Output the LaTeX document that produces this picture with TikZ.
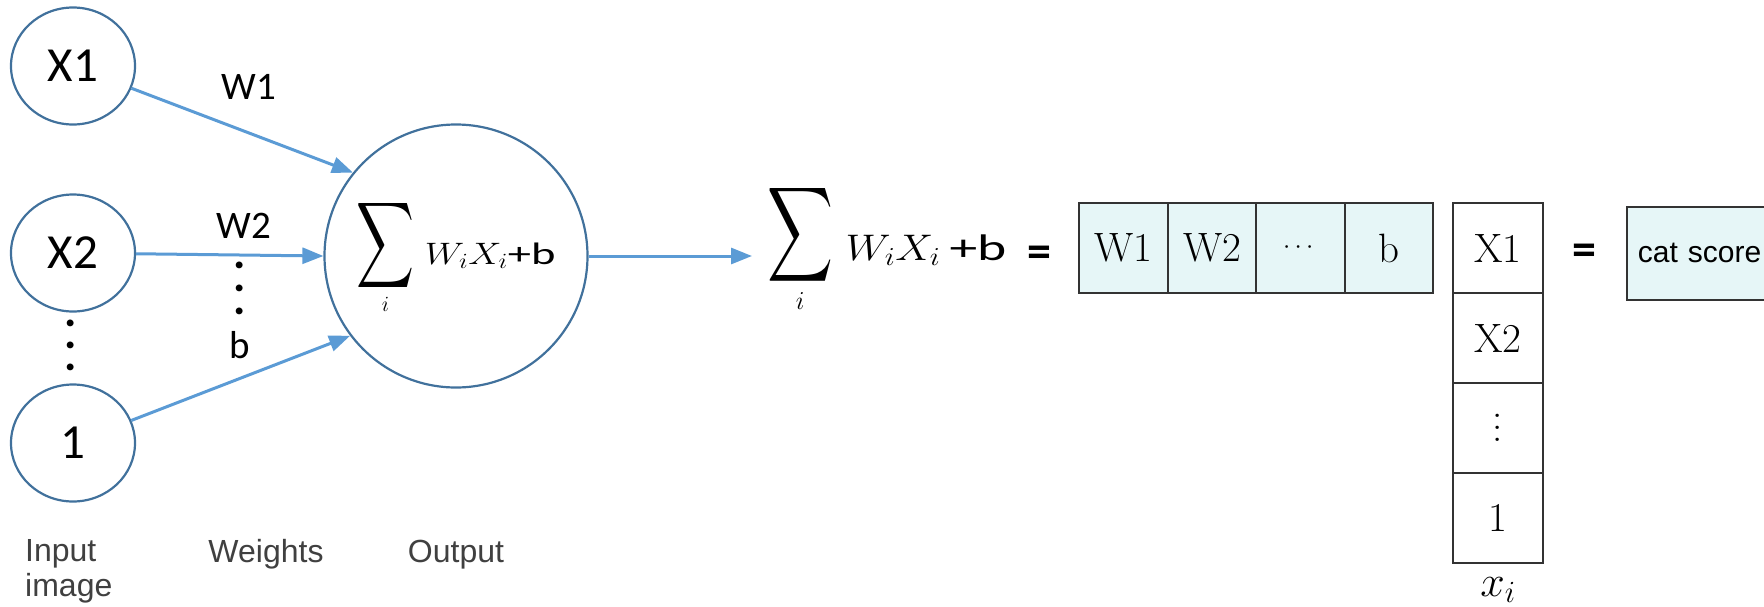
\RequirePackage{fix-cm}
\documentclass[tikz,border=0pt]{standalone}
\usepackage{amsmath}
\usepackage{graphicx}
\usepackage{fontspec}
\newfontfamily\calib{Carlito}
\newfontfamily\arialf{Liberation Sans}
\usetikzlibrary{arrows.meta,positioning,shapes.geometric}

\definecolor{ringblue}{HTML}{41719C}
\definecolor{linkblue}{HTML}{5B9BD5}
\definecolor{cellfill}{HTML}{E6F6F7}
\definecolor{cellline}{HTML}{333333}
\definecolor{capgray}{HTML}{404040}

\newcommand{\fsz}[1]{\fontsize{#1}{#1}\selectfont}
\newcommand{\bigsig}[2]{\resizebox*{#1}{#2}{$\displaystyle\sum$}}
\newcommand{\wsum}[4]{$\mathop{#1}\limits_i\,\scalebox{#2}[1]{$W_iX_i$}$\kern#3\scalebox{#4}[1]{+b}}
\newcommand{\vdotz}[1]{\vbox{\baselineskip=#1\lineskiplimit=-100pt\hbox{.}\hbox{.}\hbox{.}}}

\begin{document}
\begin{tikzpicture}[x=1pt,y=-1pt,>={Triangle[length=21pt,width=16pt]},
inp/.style={ellipse,draw=ringblue,line width=2.2pt,minimum width=124pt,minimum height=117pt,inner sep=0pt,font=\calib\fsz{49}},
neuron/.style={circle,draw=ringblue,line width=2.2pt,minimum size=263pt,inner sep=0pt,font=\calib\fsz{31}},
link/.style={->,draw=linkblue,line width=3pt},
wlab/.style={font=\calib\fsz{39},inner sep=0pt},
dotz/.style={font=\calib\bfseries\fsz{46},inner sep=0pt},
cell/.style={draw=cellline,line width=1.8pt,minimum width=88.5pt,minimum height=90pt,inner sep=0pt,outer sep=0pt,font=\fsz{41}},
wcell/.style={cell,fill=cellfill},
eqsign/.style={font=\calib\bfseries\fsz{48},inner sep=0pt},
tag/.style={font=\arialf\fontsize{32}{35}\selectfont,text=capgray,inner sep=0pt}]
\useasboundingbox (0,0) rectangle (1764,606);
\clip (0,0) rectangle (1764,606);

\node[inp] (x1) at (73,66) {X1};
\node[inp] (x2) at (73,253) {X2};
\node[inp] (one) at (73,443) {1};
\node[dotz] (xdots) at (71,345) {\vdotz{22pt}};

\node[neuron] (sum) at (456,256) {\wsum{\bigsig{58pt}{96pt}}{1.2}{0pt}{1.5}};

\draw[link] (x1) -- (sum.141);
\draw[link] (x2) -- (sum.west);
\draw[link] (one) -- (sum.217);

\node[wlab] (w1) at (249,87) {W1};
\node[wlab] (w2) at (244,226) {W2};
\node[dotz] (wdots) at (240,288) {\vdotz{23pt}};
\node[wlab] (bias) at (240,345) {b};

\node[font=\calib\fsz{37},anchor=base west,inner xsep=15pt,inner ysep=0pt] (score) at (752,260) {\wsum{\bigsig{66pt}{106pt}}{1.15}{9pt}{1.5}};
\draw[link] (sum.east) -- (sum.east -| score.west);

\node[eqsign] (eq1) at (1039,257) {=};
\node[wcell] (w1c) at (1123.5,248) {W1};
\node[wcell,right=0pt of w1c] (w2c) {W2};
\node[wcell,right=0pt of w2c] (wdc) {\fsz{26}$\cdots$};
\node[wcell,right=0pt of wdc] (bc) {b};

\node[cell,minimum width=90pt] (x1c) at (1498,248) {X1};
\node[cell,minimum width=90pt,below=0pt of x1c] (x2c) {X2};
\node[cell,minimum width=90pt,below=0pt of x2c] (xdc) {\vdotz{12pt}};
\node[cell,minimum width=90pt,below=0pt of xdc] (onec) {1};
\node[font=\fsz{44}] (xi) at (1498,590) {$x_i$};

\node[eqsign] (eq2) at (1584,255) {=};
\node[draw=cellline,line width=1.8pt,fill=cellfill,anchor=north west,text width=128pt,minimum height=93pt,inner xsep=11pt,align=left,font=\arialf\fsz{30}] (cat) at (1626,206) {cat score};

\node[tag,anchor=west,align=left] (inlab) at (25,571) {Input\\image};
\node[tag,anchor=base] (wlabel) at (266,562) {Weights};
\node[tag,anchor=base] (olab) at (456,562) {Output};
\end{tikzpicture}
\end{document}
